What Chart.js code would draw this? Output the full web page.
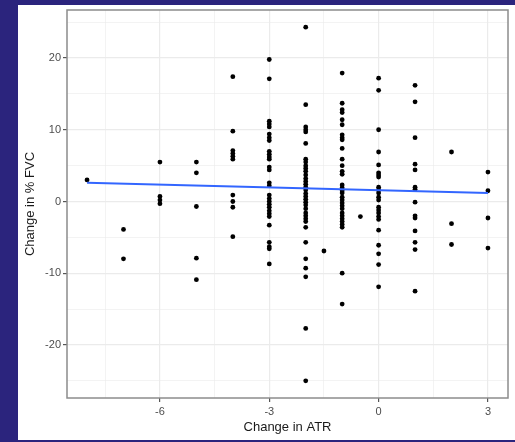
<!DOCTYPE html>
<html>
<head>
<meta charset="utf-8">
<script src="https://cdn.jsdelivr.net/npm/chart.js@4.4.1/dist/chart.umd.min.js"></script>
<style>
  html, body { margin:0; padding:0; background:#2b247d; }
  #wrap { position:relative; width:515px; height:442px; }
  canvas { position:absolute; left:0; top:0; }
</style>
</head>
<body>
<div id="wrap"><canvas id="scatter" width="515" height="442"></canvas></div>
<script>
// change in % FVC, grouped by change in ATR
const atrLevels = [-8, -7, -6, -5, -4, -3, -2, -1.5, -1, -0.5, 0, 1, 2, 3];
const fvcM8  = [3.0];
const fvcM7  = [-3.9, -8.0];
const fvcM6  = [5.5, 0.7, 0.2, -0.3];
const fvcM5  = [5.5, 4.0, -0.7, -7.9, -10.9];
const fvcM4  = [17.4, 9.8, 7.1, 6.7, 6.3, 5.9, 0.9, 0.0, -0.8, -4.9];
const fvcM3  = [19.8, 17.1, 11.2, 10.8, 10.4, 9.4, 8.9, 8.5, 7.0, 6.6, 6.2, 5.9, 4.8, 4.4, 2.6, 2.2,
                0.9, 0.4, 0.0, -0.4, -0.8, -1.3, -1.7, -2.1, -3.3, -5.7, -6.3, -6.6, -8.7];
const fvcM2  = [24.3, 13.5, 10.4, 10.0, 9.7, 8.1, 5.9, 5.5, 5.0, 4.6, 4.2, 3.7, 3.2, 2.8, 2.4, 2.0, 1.6,
                1.1, 0.7, 0.3, -0.1, -0.5, -1.0, -1.6, -2.0, -2.4, -2.8, -3.6, -5.7, -8.0, -9.3, -10.5, -17.7, -25.0];
const fvcM15 = [-6.9];
const fvcM1  = [17.9, 13.7, 12.8, 12.4, 11.4, 10.7, 9.3, 8.9, 8.6, 7.4, 5.9, 5.0, 4.2, 3.8, 2.3, 1.9, 1.5,
                1.2, 0.6, 0.2, -0.2, -0.6, -1.0, -1.6, -2.0, -2.4, -2.8, -3.2, -3.6, -10.0, -14.3];
const fvcM05 = [-2.1];
const fvc0   = [17.2, 15.5, 10.0, 6.9, 5.1, 4.0, 3.7, 3.4, 2.0, 1.6, 1.2, 0.6, 0.2, -0.8, -1.2, -1.6, -2.1,
                -2.5, -4.0, -6.1, -7.3, -8.8, -11.9];
const fvcP1  = [16.2, 13.9, 8.9, 5.2, 4.4, 2.0, 1.7, -0.1, -2.0, -2.3, -4.1, -5.7, -6.7, -12.5];
const fvcP2  = [6.9, -3.1, -6.0];
const fvcP3  = [4.1, 1.5, -2.3, -6.5];
const fvcGroups = [fvcM8, fvcM7, fvcM6, fvcM5, fvcM4, fvcM3, fvcM2, fvcM15, fvcM1, fvcM05, fvc0, fvcP1, fvcP2, fvcP3];

// linear fit line
const fitX = [-8, 3];
const fitY = [2.6, 1.2];

const xMajor = [-6, -3, 0, 3];
const xMinor = [-7.5, -4.5, -1.5, 1.5];
const yMajor = [-20, -10, 0, 10, 20];
const yMinor = [-25, -15, -5, 5, 15, 25];

const points = [];
atrLevels.forEach((a, i) => fvcGroups[i].forEach(v => points.push({ x: a, y: v })));
const fitPts = fitX.map((x, i) => ({ x, y: fitY[i] }));

const AREA = { left: 67, top: 10, right: 508, bottom: 398 };

const bgPlugin = {
  id: 'bg',
  beforeDraw(chart) {
    const c = chart.ctx;
    c.save();
    c.fillStyle = '#2b247d';
    c.fillRect(0, 0, 515, 442);
    c.fillStyle = '#ffffff';
    c.fillRect(18, 5, 497, 435);
    c.restore();
  },
  afterDraw(chart) {
    const a = chart.chartArea, c = chart.ctx;
    c.save();
    c.strokeStyle = '#8c8c8c';
    c.lineWidth = 1.5;
    c.strokeRect(a.left, a.top, a.right - a.left, a.bottom - a.top);
    c.restore();
  }
};

function axisSetup(major, minor) {
  const all = major.concat(minor).sort((p, q) => p - q);
  const isMajor = v => major.includes(v);
  return {
    afterBuildTicks: s => { s.ticks = all.map(v => ({ value: v })); },
    ticks: {
      autoSkip: false, maxRotation: 0,
      color: '#4d4d4d',
      font: { family: 'Liberation Sans, Arial', size: 11 },
      callback: v => isMajor(v) ? String(v) : ''
    },
    grid: {
      color: '#ebebeb',
      lineWidth: c => c.tick && isMajor(c.tick.value) ? 1.2 : 0.6,
      tickColor: c => c.tick && isMajor(c.tick.value) ? '#555' : 'rgba(0,0,0,0)',
      tickLength: 4,
      drawTicks: true
    },
    border: { display: false }
  };
}

const xAxis = axisSetup(xMajor, xMinor);
const yAxis = axisSetup(yMajor, yMinor);

new Chart(document.getElementById('scatter'), {
  type: 'scatter',
  data: {
    datasets: [
      { type: 'line', data: fitPts, borderColor: '#3366ff', borderWidth: 2, pointRadius: 0, fill: false, tension: 0 },
      { data: points, backgroundColor: '#000', borderColor: '#000', pointRadius: 2.4, pointBorderWidth: 0 }
    ]
  },
  options: {
    responsive: false,
    animation: false,
    layout: { padding: { top: AREA.top, right: 515 - AREA.right, left: 0, bottom: 0 } },
    plugins: { legend: { display: false }, tooltip: { enabled: false } },
    scales: {
      x: Object.assign({
        type: 'linear', min: -8.55, max: 3.55,
        afterFit: s => { s.height = 442 - AREA.bottom; },
        title: { display: true, text: 'Change in ATR', color: '#1a1a1a',
                 font: { family: 'Liberation Sans, Arial', size: 13 }, padding: { top: 0, bottom: 7 } }
      }, xAxis, { ticks: Object.assign({}, xAxis.ticks, { padding: 3 }) }),
      y: Object.assign({
        type: 'linear', min: -27.4, max: 26.7,
        afterFit: s => { s.width = AREA.left; },
        title: { display: true, text: 'Change in % FVC', color: '#1a1a1a',
                 font: { family: 'Liberation Sans, Arial', size: 13 }, padding: { top: 23, bottom: 0 } }
      }, yAxis, { ticks: Object.assign({}, yAxis.ticks, { padding: 2 }) })
    }
  },
  plugins: [bgPlugin]
});
</script>
</body>
</html>
